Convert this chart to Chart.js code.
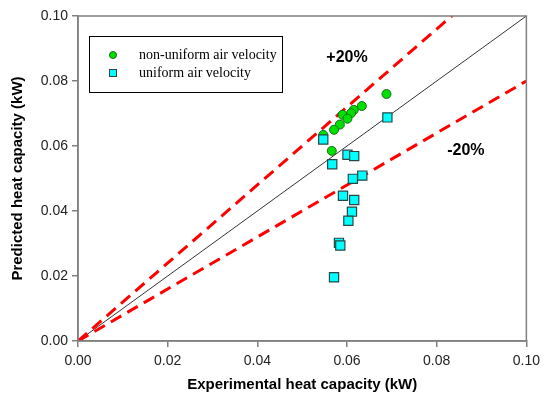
<!DOCTYPE html>
<html>
<head>
<meta charset="utf-8">
<script src="https://cdn.jsdelivr.net/npm/chart.js@4"></script>
<style>
  html, body { margin: 0; padding: 0; background: #fff; }
  #wrap { width: 546px; height: 405px; }
</style>
</head>
<body>
<div id="wrap"><canvas id="scatter" width="546" height="405"></canvas></div>
<script>
// experimental (x) vs predicted (y) heat capacity, kW
const nonUniformX = [0.0688, 0.0633, 0.0615, 0.0609, 0.0590, 0.0601, 0.0584, 0.0571, 0.0547, 0.0566];
const nonUniformY = [0.0760, 0.0723, 0.0711, 0.0701, 0.0696, 0.0684, 0.0666, 0.0650, 0.0634, 0.0585];
const uniformX = [0.0690, 0.0547, 0.0601, 0.0616, 0.0567, 0.0613, 0.0634, 0.0591, 0.0616, 0.0611, 0.0603, 0.0582, 0.0585, 0.0571];
const uniformY = [0.0688, 0.0620, 0.0573, 0.0569, 0.0544, 0.0499, 0.0509, 0.0447, 0.0434, 0.0398, 0.0370, 0.0302, 0.0294, 0.0196];

const lineX = [0, 0.1];
const ratios = { perfect: 1.0, plus20: 1.2, minus20: 0.8 };

const labels = ['non-uniform air velocity', 'uniform air velocity'];
const notes = [
  { text: '+20%', x: 0.060, y: 0.0872 },
  { text: '-20%', x: 0.0865, y: 0.0585 }
];

function pts(xs, ys) {
  return xs.map((x, i) => ({ x: x, y: ys[i] }));
}
function ratioLine(r) {
  return lineX.map(x => ({ x: x, y: x * r }));
}

// frame + legend box + percentage labels
const extras = {
  id: 'extras',
  afterDraw(chart) {
    const c = chart.ctx;
    const a = chart.chartArea;
    const sx = chart.scales.x, sy = chart.scales.y;
    c.save();
    c.strokeStyle = '#808080';
    c.lineWidth = 1.5;
    c.strokeRect(a.left, a.top, a.right - a.left, a.bottom - a.top);

    // legend
    c.fillStyle = '#fff';
    c.fillRect(89, 36, 193, 56);
    c.strokeStyle = '#000';
    c.lineWidth = 1;
    c.strokeRect(89.5, 36.5, 193, 56);
    c.font = '14px "Liberation Serif", "Times New Roman", serif';
    c.textBaseline = 'middle';
    const rows = [55, 73];
    rows.forEach((ry, i) => {
      const ds = chart.data.datasets[i];
      c.fillStyle = ds.backgroundColor;
      c.strokeStyle = ds.borderColor;
      c.lineWidth = 1;
      if (i === 0) {
        c.beginPath();
        c.arc(113, ry, 3.5, 0, Math.PI * 2);
        c.fill(); c.stroke();
      } else {
        c.fillRect(109.5, ry - 3.5, 7, 7);
        c.strokeRect(109.5, ry - 3.5, 7, 7);
      }
      c.fillStyle = '#000';
      c.fillText(labels[i], 139, ry);
    });

    c.font = 'bold 16px Arial, "Liberation Sans", sans-serif';
    c.textAlign = 'center';
    c.fillStyle = '#000';
    notes.forEach(n => {
      c.fillText(n.text, sx.getPixelForValue(n.x), sy.getPixelForValue(n.y));
    });
    c.restore();
  }
};

const tickFont = { family: 'Arial, "Liberation Sans", sans-serif', size: 14 };
const titleFont = { family: 'Arial, "Liberation Sans", sans-serif', size: 15, weight: 'bold' };

new Chart(document.getElementById('scatter'), {
  type: 'scatter',
  data: {
    datasets: [
      {
        label: labels[0],
        data: pts(nonUniformX, nonUniformY),
        pointStyle: 'circle',
        pointRadius: 4.5,
        backgroundColor: '#00e000',
        borderColor: '#1c6b1c',
        borderWidth: 1,
        order: 1
      },
      {
        label: labels[1],
        data: pts(uniformX, uniformY),
        pointStyle: 'rect',
        pointRadius: 6.5,
        backgroundColor: '#00ffff',
        borderColor: '#264848',
        borderWidth: 1.2,
        order: 0
      },
      {
        type: 'line',
        label: '1:1',
        data: ratioLine(ratios.perfect),
        borderColor: '#000',
        borderWidth: 0.8,
        pointRadius: 0,
        order: 3
      },
      {
        type: 'line',
        label: '+20%',
        data: ratioLine(ratios.plus20),
        borderColor: '#ff0000',
        borderWidth: 3,
        borderDash: [12, 7],
        pointRadius: 0,
        order: 2
      },
      {
        type: 'line',
        label: '-20%',
        data: ratioLine(ratios.minus20),
        borderColor: '#ff0000',
        borderWidth: 3,
        borderDash: [12, 7],
        pointRadius: 0,
        order: 2
      }
    ]
  },
  options: {
    responsive: false,
    animation: false,
    events: [],
    layout: { padding: { top: 16, right: 18, left: 0, bottom: 0 } },
    plugins: {
      legend: { display: false },
      tooltip: { enabled: false }
    },
    scales: {
      x: {
        type: 'linear',
        min: 0,
        max: 0.1,
        afterFit(s) { s.height = 64; },
        ticks: {
          stepSize: 0.02,
          font: tickFont,
          color: '#222',
          padding: 6,
          callback: v => v.toFixed(2)
        },
        grid: { drawOnChartArea: false, tickLength: 6, color: '#808080', lineWidth: 1.5 },
        border: { color: '#808080', width: 1.5 },
        title: { display: true, text: 'Experimental heat capacity (kW)', font: titleFont, color: '#000', padding: { top: 0, bottom: 11 } }
      },
      y: {
        type: 'linear',
        min: 0,
        max: 0.1,
        afterFit(s) { s.width = 78; },
        ticks: {
          stepSize: 0.02,
          font: tickFont,
          color: '#222',
          padding: 4,
          callback: v => v.toFixed(2)
        },
        grid: { drawOnChartArea: false, tickLength: 6, color: '#808080', lineWidth: 1.5 },
        border: { color: '#808080', width: 1.5 },
        title: { display: true, text: 'Predicted heat capacity (kW)', font: titleFont, color: '#000', padding: { top: 9, bottom: 9 } }
      }
    }
  },
  plugins: [extras]
});
</script>
</body>
</html>
